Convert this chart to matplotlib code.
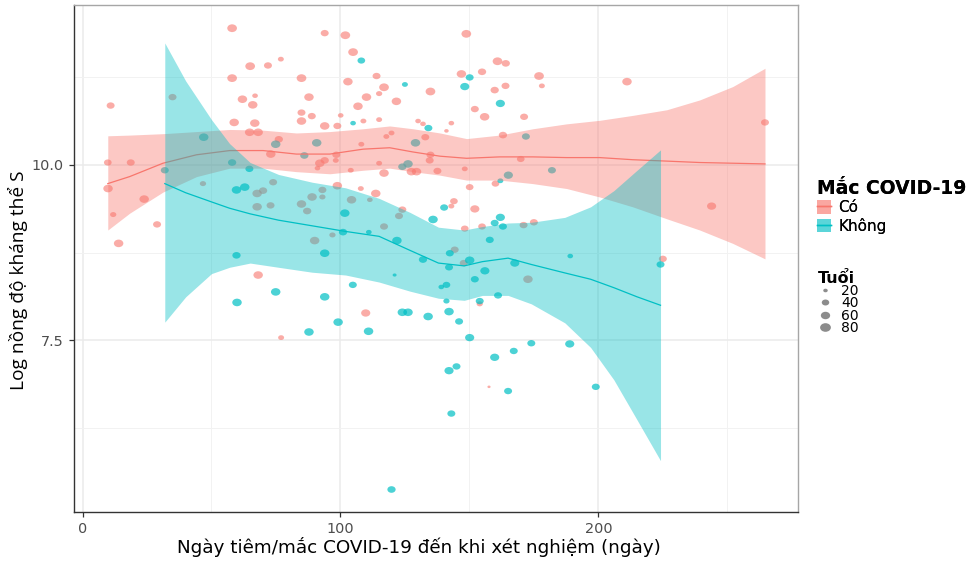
import numpy as np
import matplotlib.pyplot as plt
from matplotlib.path import Path
from matplotlib.transforms import Affine2D
from matplotlib.patches import Patch
from matplotlib.lines import Line2D

plt.rcParams['font.family'] = ['DejaVu Sans']

PINK = '#F8766D'
TEAL = '#00BFC4'

# --- Có (đã mắc COVID-19) ---
co_days = [58.0, 93.9, 101.9, 104.9, 76.9, 71.9, 65.0, 58.0, 84.9, 102.9,
           114.0, 116.9, 115.0, 134.9, 87.8, 110.1, 62.0, 66.9, 66.0, 121.7,
           34.9, 10.9, 106.8, 84.9, 88.9, 100.1, 58.8, 66.8, 84.9, 93.9,
           98.8, 108.9, 115.0, 130.1, 132.0, 64.8, 68.1, 76.1, 108.1, 117.8,
           119.8, 132.9, 73.0, 92.0, 93.9, 98.4, 98.2, 91.1, 104.0, 115.0,
           116.9, 127.5, 129.5, 134.9, 134.6, 137.6, 9.8, 18.7, 9.9, 23.9,
           11.9, 28.9, 14.0, 46.7, 67.7, 70.0, 73.9, 67.7, 72.9, 84.9,
           87.1, 89.0, 93.0, 93.0, 98.8, 104.3, 107.9, 113.7, 111.4, 124.0,
           122.7, 116.9, 96.9, 90.0, 68.1, 77.0, 109.8, 154.0, 144.3, 147.8,
           172.7, 157.6, 225.0, 148.8, 160.9, 164.1, 146.9, 154.9, 159.8, 164.0,
           177.0, 178.1, 211.1, 152.1, 155.9, 171.2, 143.0, 141.1, 163.0, 148.2,
           169.9, 160.1, 150.1, 144.0, 143.0, 152.1, 148.2, 154.9, 171.0, 175.0,
           243.9, 264.6]
co_log = [11.94, 11.87, 11.84, 11.60, 11.50, 11.41, 11.40, 11.23, 11.23, 11.18,
          11.26, 11.10, 11.01, 11.04, 10.96, 10.96, 10.93, 10.98, 10.85, 10.90,
          10.96, 10.84, 10.83, 10.74, 10.69, 10.70, 10.60, 10.59, 10.62, 10.55,
          10.55, 10.62, 10.64, 10.62, 10.58, 10.46, 10.46, 10.36, 10.29, 10.40,
          10.45, 10.39, 10.15, 10.02, 10.06, 10.14, 10.06, 9.95, 9.92, 10.02,
          9.88, 9.90, 9.90, 10.14, 10.06, 9.91, 10.03, 10.03, 9.66, 9.51,
          9.29, 9.15, 8.88, 9.73, 9.59, 9.63, 9.75, 9.40, 9.42, 9.44,
          9.34, 9.54, 9.64, 9.54, 9.70, 9.50, 9.66, 9.59, 9.50, 9.36,
          9.27, 9.12, 9.00, 8.92, 8.43, 7.54, 7.89, 8.02, 8.79, 8.60,
          8.37, 6.84, 8.66, 11.86, 11.47, 11.44, 11.29, 11.32, 11.06, 11.12,
          11.26, 11.12, 11.18, 10.79, 10.68, 10.68, 10.59, 10.48, 10.42, 9.94,
          10.08, 9.73, 9.68, 9.48, 9.41, 9.37, 9.09, 9.12, 9.14, 9.18,
          9.41, 10.60]
co_age = [65, 45, 65, 65, 28, 45, 65, 65, 65, 62,
          45, 65, 30, 65, 62, 62, 62, 26, 62, 62,
          45, 45, 62, 45, 45, 26, 62, 62, 62, 62,
          45, 28, 28, 26, 26, 62, 62, 48, 28, 28,
          28, 45, 62, 62, 48, 45, 28, 26, 28, 28,
          62, 62, 62, 45, 45, 45, 42, 45, 62, 62,
          30, 45, 62, 30, 62, 48, 45, 62, 45, 62,
          48, 62, 45, 30, 62, 62, 28, 62, 26, 45,
          45, 45, 30, 62, 62, 28, 58, 30, 45, 45,
          62, 16, 45, 65, 65, 48, 62, 48, 48, 45,
          65, 28, 62, 45, 62, 45, 26, 20, 48, 28,
          42, 42, 42, 42, 28, 58, 42, 42, 45, 45,
          58, 45]

# --- Không ---
khong_days = [108.1, 125.0, 104.9, 134.1, 74.9, 47.0, 90.8, 129.1, 86.0, 124.0,
              126.2, 58.0, 64.7, 59.7, 62.9, 101.7, 135.9, 101.0, 111.0, 121.9,
              93.9, 59.7, 132.0, 74.9, 59.9, 93.9, 104.8, 121.0, 124.0, 126.2,
              134.0, 99.1, 87.8, 110.9, 119.8, 142.1, 141.1, 146.0, 150.1, 154.0,
              161.1, 152.1, 156.0, 167.6, 150.1, 142.1, 142.4, 141.1, 139.1, 157.9,
              189.1, 174.0, 167.2, 159.8, 188.9, 145.0, 142.1, 165.0, 199.0, 143.0,
              224.1, 150.1, 148.2, 162.0, 171.9, 165.1, 182.0, 162.0, 140.2, 162.0,
              159.8, 163.0, 31.9]
khong_log = [11.48, 11.14, 10.59, 10.52, 10.29, 10.39, 10.31, 10.31, 10.13, 9.97,
             10.01, 10.03, 9.94, 9.64, 9.68, 9.31, 9.22, 9.04, 9.04, 8.92,
             8.74, 8.71, 8.65, 8.19, 8.04, 8.12, 8.29, 8.43, 7.90, 7.90,
             7.84, 7.76, 7.62, 7.63, 5.38, 7.91, 8.06, 7.77, 7.54, 8.06,
             8.14, 8.37, 8.49, 8.60, 8.64, 8.54, 8.74, 8.29, 8.26, 8.93,
             8.70, 7.46, 7.35, 7.26, 7.45, 7.13, 7.07, 6.78, 6.84, 6.46,
             8.58, 11.24, 11.11, 10.87, 10.40, 9.85, 9.92, 9.77, 9.39, 9.25,
             9.17, 9.12, 9.92]
khong_age = [42, 28, 26, 45, 62, 62, 62, 62, 48, 48,
             62, 48, 45, 62, 62, 62, 62, 48, 26, 62,
             62, 48, 48, 62, 62, 62, 45, 18, 62, 62,
             62, 62, 62, 62, 48, 62, 30, 45, 58, 45,
             45, 45, 58, 58, 62, 45, 45, 42, 26, 45,
             26, 45, 45, 58, 58, 45, 58, 45, 45, 45,
             45, 45, 58, 58, 45, 58, 45, 28, 45, 58,
             45, 45, 45]

# đường loess và khoảng tin cậy 95%
co_grid = [9.8, 18.3, 31.2, 44.2, 57.1, 70.0, 82.9, 95.9, 108.8, 119.1, 128.1,
           138.6, 148.9, 161.7, 174.6, 187.7, 200.5, 213.3, 226.5, 239.3, 252.1, 264.6]
co_fit = [9.73, 9.83, 10.02, 10.14, 10.20, 10.20, 10.15, 10.15, 10.22, 10.24, 10.18,
          10.12, 10.09, 10.11, 10.11, 10.10, 10.10, 10.07, 10.05, 10.03, 10.02, 10.01]
co_hi = [10.41, 10.42, 10.44, 10.47, 10.50, 10.49, 10.45, 10.47, 10.51, 10.55, 10.51,
         10.45, 10.37, 10.42, 10.51, 10.58, 10.63, 10.70, 10.78, 10.92, 11.11, 11.37]
co_lo = [9.07, 9.31, 9.61, 9.83, 9.95, 9.95, 9.90, 9.87, 9.92, 9.95, 9.90,
         9.85, 9.78, 9.78, 9.73, 9.66, 9.54, 9.40, 9.23, 9.07, 8.88, 8.66]

khong_grid = [31.9, 40, 50, 57, 65, 76, 89, 102, 115, 127, 138, 148, 155, 165,
              174, 187, 197, 206, 215, 224.1]
khong_fit = [9.73, 9.60, 9.47, 9.38, 9.30, 9.21, 9.13, 9.05, 8.98, 8.78, 8.60, 8.56,
             8.62, 8.67, 8.58, 8.46, 8.37, 8.25, 8.12, 8.00]
khong_hi = [11.73, 11.19, 10.64, 10.30, 10.03, 9.86, 9.75, 9.67, 9.52, 9.32, 9.11,
            9.07, 9.12, 9.17, 9.18, 9.25, 9.40, 9.63, 9.92, 10.21]
khong_lo = [7.76, 8.12, 8.45, 8.54, 8.60, 8.54, 8.47, 8.43, 8.33, 8.20, 8.10,
            8.07, 8.14, 8.14, 8.02, 7.75, 7.40, 6.94, 6.37, 5.79]

legend_ages = [20, 40, 60, 80]


def dot_size(age):
    d = 1.5 + 6.5 * np.sqrt((np.asarray(age, dtype=float) - 15) / 70.0)
    return d ** 2


oval = Affine2D().scale(1.25, 1.0).transform_path(Path.unit_circle())

fig = plt.figure(figsize=(9.75, 5.62), dpi=100)
ax = fig.add_axes([74 / 975, 1 - 512 / 562, 724 / 975, 507 / 562])

ax.scatter(co_days, co_log, s=dot_size(co_age), marker=oval, color=PINK,
           alpha=0.6, linewidths=0, zorder=2)
ax.scatter(khong_days, khong_log, s=dot_size(khong_age), marker=oval, color=TEAL,
           alpha=0.7, linewidths=0, zorder=2)

ax.fill_between(co_grid, co_lo, co_hi, color=PINK, alpha=0.4, lw=0, zorder=3)
ax.plot(co_grid, co_fit, color=PINK, lw=0.9, zorder=3)
ax.fill_between(khong_grid, khong_lo, khong_hi, color=TEAL, alpha=0.4, lw=0, zorder=4)
ax.plot(khong_grid, khong_fit, color=TEAL, lw=0.9, zorder=4)

ax.set_xlim(-3.3, 277.4)
ax.set_ylim(5.06, 12.27)
ax.set_xticks([0, 100, 200])
ax.set_xticks([50, 150, 250], minor=True)
ax.set_yticks([7.5, 10.0])
ax.set_yticklabels(['7.5', '10.0'])
ax.set_yticks([6.25, 8.75, 11.25], minor=True)
ax.grid(which='major', color='#EBEBEB', lw=1.1)
ax.grid(which='minor', color='#F2F2F2', lw=0.7)
ax.set_axisbelow(True)
ax.tick_params(which='major', length=3.8, width=0.9, color='#333333',
               labelcolor='#4D4D4D', labelsize=10.4, pad=3.5)
ax.tick_params(which='minor', length=0)

for side in ['left', 'bottom']:
    ax.spines[side].set_color('#333333')
    ax.spines[side].set_linewidth(1.0)
for side in ['top', 'right']:
    ax.spines[side].set_color('#A6A6A6')
    ax.spines[side].set_linewidth(1.0)

ax.set_xlabel('Ngày tiêm/mắc COVID-19 đến khi xét nghiệm (ngày)', fontsize=13.2)
ax.xaxis.label.set_va('center')
ax.xaxis.set_label_coords((419 - 74) / 724, -(547 - 512) / 507)
ax.set_ylabel('Log nồng độ kháng thể S', fontsize=13.8, family='Open Sans')
ax.yaxis.set_label_coords(-(74 - 28) / 724, 1 - (280 - 5) / 507)

group_handles = [
    (Patch(facecolor=PINK, alpha=0.4, lw=0), Line2D([], [], color=PINK, lw=1)),
    (Patch(facecolor=TEAL, alpha=0.4, lw=0), Line2D([], [], color=TEAL, lw=1)),
]
leg1 = fig.legend(group_handles, ['Có', 'Không'], title='Mắc COVID-19',
                  loc='upper left', bbox_to_anchor=(811 / 975, 1 - 173 / 562),
                  frameon=False, fontsize=11, alignment='left',
                  title_fontproperties={'weight': 'bold', 'size': 13.5},
                  handlelength=0.9, handleheight=1.0, handletextpad=0.5,
                  labelspacing=0.15, borderaxespad=0)

size_handles = [Line2D([], [], ls='', marker=oval, color='black', alpha=0.45,
                       markeredgewidth=0, markersize=np.sqrt(dot_size(a)))
                for a in legend_ages]
leg2 = fig.legend(size_handles, [str(a) for a in legend_ages], title='Tuổi',
                  loc='upper left', bbox_to_anchor=(812 / 975, 1 - 265 / 562),
                  frameon=False, fontsize=10, alignment='left',
                  title_fontproperties={'weight': 'bold', 'size': 11.5},
                  handlelength=1.0, handletextpad=0.7, labelspacing=-0.12,
                  borderaxespad=0)
fig.add_artist(leg1)

fig.savefig('out.png', dpi=100)
